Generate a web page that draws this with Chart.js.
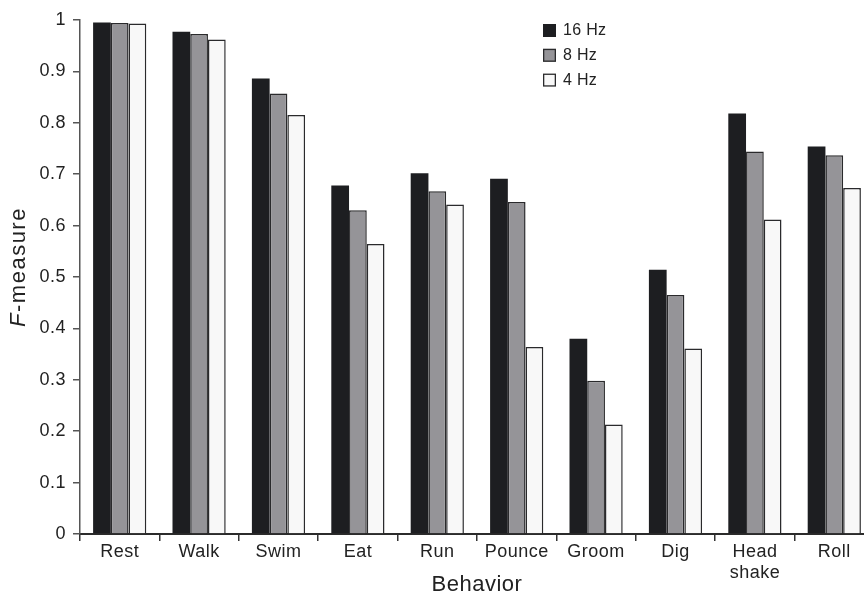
<!DOCTYPE html>
<html>
<head>
<meta charset="utf-8">
<title>F-measure by behavior</title>
<script src="https://cdn.jsdelivr.net/npm/chart.js@4.4.1/dist/chart.umd.min.js"></script>
<style>
  html, body { margin: 0; padding: 0; background: #ffffff; overflow: hidden; }
  #wrap { width: 890px; height: 595px; }
  canvas { display: block; }
</style>
</head>
<body>
<div id="wrap"><canvas id="chart" width="890" height="595"></canvas></div>
<script>
// Behaviour classes along the x axis
const behaviors = ['Rest', 'Walk', 'Swim', 'Eat', 'Run', 'Pounce', 'Groom', 'Dig', ['Head', 'shake'], 'Roll'];

// F-measure per behaviour at each sampling rate
const f16Hz = [0.995, 0.977, 0.886, 0.678, 0.702, 0.691, 0.380, 0.514, 0.818, 0.754];
const f8Hz  = [0.994, 0.973, 0.857, 0.630, 0.667, 0.646, 0.298, 0.465, 0.744, 0.737];
const f4Hz  = [0.993, 0.962, 0.815, 0.564, 0.641, 0.364, 0.213, 0.361, 0.612, 0.673];

const seriesNames = ['16 Hz', '8 Hz', '4 Hz'];
const yTickLabels = ['0', '0.1', '0.2', '0.3', '0.4', '0.5', '0.6', '0.7', '0.8', '0.9', '1'];

const FONT = "'Liberation Sans', Arial, Helvetica, sans-serif";
const INK = '#222222';
const EDGE = '#2a2a2c';

const fills = ['#1d1e21', '#959498', '#f8f8f8'];
const edges = ['#1d1e21', EDGE, EDGE];

// Slightly open letter spacing for all axis text
const textSpacing = {
  id: 'textSpacing',
  beforeDraw(chart) { chart.ctx.letterSpacing = '0.5px'; }
};

// Legend in the upper right of the plot
const boxLegend = {
  id: 'boxLegend',
  afterDraw(chart) {
    const ctx = chart.ctx;
    ctx.save();
    ctx.font = '16px ' + FONT;
    ctx.letterSpacing = '0.3px';
    ctx.textBaseline = 'middle';
    ctx.textAlign = 'left';
    chart.data.datasets.forEach((ds, i) => {
      const x = 543, y = 24 + i * 24.8, s = 13;
      ctx.fillStyle = ds.backgroundColor;
      ctx.fillRect(x, y, s, s);
      if (i > 0) {
        ctx.strokeStyle = EDGE;
        ctx.lineWidth = 1.3;
        ctx.strokeRect(x + 0.65, y + 0.65, s - 1.3, s - 1.3);
      }
      ctx.fillStyle = INK;
      ctx.fillText(ds.label, 563, y + 7);
    });
    ctx.restore();
  }
};

// Vertical axis title with an italic "F"
const yTitle = {
  id: 'yTitle',
  afterDraw(chart) {
    const ctx = chart.ctx;
    ctx.save();
    ctx.translate(25, 267);
    ctx.rotate(-Math.PI / 2);
    ctx.fillStyle = INK;
    ctx.textBaseline = 'alphabetic';
    ctx.letterSpacing = '1.5px';
    const italic = 'italic 22px ' + FONT;
    const upright = '22px ' + FONT;
    ctx.font = italic;
    const wF = ctx.measureText('F').width;
    ctx.font = upright;
    const wRest = ctx.measureText('-measure').width;
    const x = -(wF + wRest) / 2;
    ctx.font = italic;
    ctx.fillText('F', x, 0);
    ctx.font = upright;
    ctx.fillText('-measure', x + wF, 0);
    ctx.restore();
  }
};

new Chart(document.getElementById('chart'), {
  type: 'bar',
  data: {
    labels: behaviors,
    datasets: [f16Hz, f8Hz, f4Hz].map((vals, i) => ({
      label: seriesNames[i],
      data: vals,
      backgroundColor: fills[i],
      borderColor: edges[i],
      borderWidth: i === 0 ? 0 : 1.5,
      categoryPercentage: 0.67,
      barPercentage: 1.0
    }))
  },
  options: {
    responsive: false,
    animation: false,
    devicePixelRatio: 1,
    layout: { padding: { top: 20, right: 16, bottom: 0, left: 0 } },
    plugins: {
      legend: { display: false },
      tooltip: { enabled: false }
    },
    scales: {
      x: {
        offset: true,
        afterFit(scale) { scale.height = 61; },
        grid: {
          offset: true,
          drawOnChartArea: false,
          drawTicks: true,
          tickLength: 7,
          color: '#333333',
          lineWidth: 1.5
        },
        border: { display: true, color: '#2b2b2b', width: 2 },
        ticks: {
          color: INK,
          padding: 1,
          maxRotation: 0,
          autoSkip: false,
          font: { family: FONT, size: 18, lineHeight: 1.15 }
        },
        title: {
          display: true,
          text: 'Behavior',
          color: INK,
          padding: { top: 0, bottom: 0 },
          font: { family: FONT, size: 22, lineHeight: 0.9 }
        }
      },
      y: {
        min: 0,
        max: 1,
        afterFit(scale) { scale.width = 80; },
        grid: {
          drawOnChartArea: false,
          drawTicks: true,
          tickLength: 7,
          color: '#555555',
          lineWidth: 1.5
        },
        border: { display: true, color: '#555555', width: 1.5 },
        ticks: {
          stepSize: 0.1,
          padding: 7,
          color: INK,
          font: { family: FONT, size: 18 },
          callback: (v, i) => yTickLabels[i]
        }
      }
    }
  },
  plugins: [textSpacing, boxLegend, yTitle]
});
</script>
</body>
</html>
